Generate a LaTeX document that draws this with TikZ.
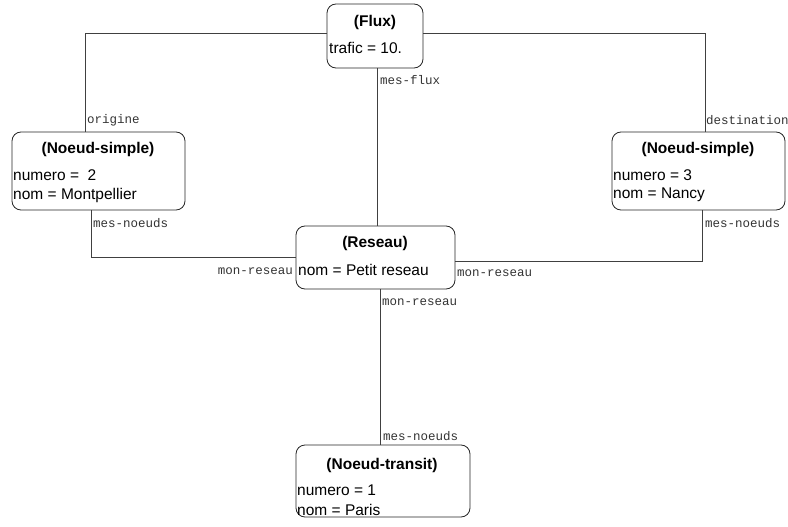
\documentclass[tikz,border=0pt]{standalone}
\usepackage{fontspec}
\setmainfont{Liberation Sans}
\setmonofont{Liberation Mono}
\begin{document}
\begin{tikzpicture}[x=1pt,y=-1pt,
  box/.style={draw=black!85, line width=0.8pt, rounded corners=9pt, inner sep=0pt},
  conn/.style={draw=black!75, line width=0.8pt},
  ttl/.style={font=\fontsize{15.5}{17}\selectfont\bfseries, inner sep=0pt, anchor=center},
  attr/.style={font=\fontsize{15.5}{17}\selectfont, inner sep=0pt, anchor=west},
  lbl/.style={font=\fontsize{12.5}{14}\selectfont\ttfamily, inner sep=0pt, anchor=west, text=black!80},
  lblr/.style={lbl, anchor=east}]
\useasboundingbox (0,0) rectangle (788,527);
% boxes
\node[box, minimum width=96pt, minimum height=64pt] (flux) at (375,36) {};
\node[box, minimum width=173pt, minimum height=78pt] (ns1) at (98.5,171) {};
\node[box, minimum width=173pt, minimum height=78pt] (ns2) at (698.5,171) {};
\node[box, minimum width=159pt, minimum height=63pt] (res) at (375.5,257.5) {};
\node[box, minimum width=174pt, minimum height=72pt] (tr) at (383,481) {};
% texts
\node[ttl] (t1) at (375,22) {(Flux)};
\node[attr] (a1) at (329,48) {trafic = 10.};
\node[ttl] (t2) at (98,149) {(Noeud-simple)};
\node[attr] (a2) at (13,175) {numero =\ \ 2};
\node[attr] (a3) at (13,195) {nom = Montpellier};
\node[ttl] (t3) at (698,149) {(Noeud-simple)};
\node[attr] (a4) at (613,175) {numero = 3};
\node[attr] (a5) at (613,195) {nom = Nancy};
\node[ttl] (t4) at (375,243) {(Reseau)};
\node[attr] (a6) at (298,270) {nom = Petit reseau};
\node[ttl] (t5) at (382,465) {(Noeud-transit)};
\node[attr] (a7) at (297,490) {numero = 1};
\node[attr] (a8) at (297,510) {nom = Paris};
% corner coordinates
\coordinate (cl) at (85,33);
\coordinate (cr) at (705,33);
\coordinate (ml) at (91,257);
\coordinate (mr) at (702,261);
\coordinate (vt) at (377,0);
\coordinate (vb) at (380,0);
% connectors
\draw[conn] (flux.west |- cl) -- (cl) -- (cl |- ns1.north);
\draw[conn] (flux.east |- cr) -- (cr) -- (cr |- ns2.north);
\draw[conn] (vt |- flux.south) -- (vt |- res.north);
\draw[conn] (ml |- ns1.south) -- (ml) -- (res.west |- ml);
\draw[conn] (mr |- ns2.south) -- (mr) -- (res.east |- mr);
\draw[conn] (vb |- res.south) -- (vb |- tr.north);
% labels
\node[lbl] (l1) at (87,120) {origine};
\node[lbl] (l2) at (706,120) {destination};
\node[lbl] (l3) at (380,80) {mes-flux};
\node[lbl] (l4) at (93,223) {mes-noeuds};
\node[lbl] (l5) at (705,223) {mes-noeuds};
\node[lblr] (l6) at (293,271) {mon-reseau};
\node[lbl] (l7) at (457,273) {mon-reseau};
\node[lbl] (l8) at (382,302) {mon-reseau};
\node[lbl] (l9) at (383,436) {mes-noeuds};
\end{tikzpicture}
\end{document}
